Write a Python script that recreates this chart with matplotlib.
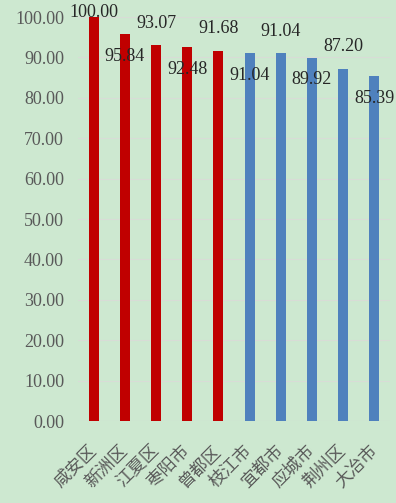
import matplotlib
matplotlib.use("Agg")
import matplotlib.pyplot as plt

categories = ["咸安区", "新洲区", "江夏区", "枣阳市", "曾都区", "枝江市", "宜都市", "应城市", "荆州区", "大冶市"]
values = [100.00, 95.84, 93.07, 92.48, 91.68, 91.04, 91.04, 89.92, 87.20, 85.39]
colors = ["#C00000"] * 5 + ["#4F81BD"] * 5
yticks = [0, 10, 20, 30, 40, 50, 60, 70, 80, 90, 100]

bg = "#CDE8D0"
fig = plt.figure(figsize=(3.96, 5.03), dpi=100, facecolor=bg)
ax = fig.add_axes([78/396, 1 - 421/503, 312/396, (421 - 17)/503])
ax.set_facecolor(bg)

x = list(range(len(categories)))
ax.bar(x, values, width=0.32, color=colors, zorder=3)
ax.set_xlim(-0.5, len(categories) - 0.5)
ax.set_ylim(0, 100)
ax.set_yticks(yticks)
ax.set_yticklabels([f"{v:.2f}" for v in yticks], family=["Liberation Serif"], fontsize=13, color="#595959")
ax.yaxis.grid(True, color="#D8DCD6", linewidth=0.8, zorder=0)
ax.set_axisbelow(True)
for s in ax.spines.values():
    s.set_visible(False)
ax.axhline(0, color="#D9D9D9", linewidth=0.8, zorder=2)
ax.tick_params(axis="y", length=0, pad=10)
ax.set_xticks(x)
ax.set_xticklabels(categories, rotation=45, ha="right", va="center", rotation_mode="anchor",
                   family=["Noto Sans CJK SC"], fontsize=12.5, color="#595959")
ax.tick_params(axis="x", length=0, pad=19)

for i, v in enumerate(values):
    if i % 2 == 0:
        y = min(v + 5.4, 101.0)
    else:
        y = v - 5.5
    ax.text(i, y, f"{v:.2f}", ha="center", va="center", family=["Liberation Serif"],
            fontsize=13, color="#262626", clip_on=False, zorder=4)

fig.savefig("out.png", dpi=100, facecolor=bg)
